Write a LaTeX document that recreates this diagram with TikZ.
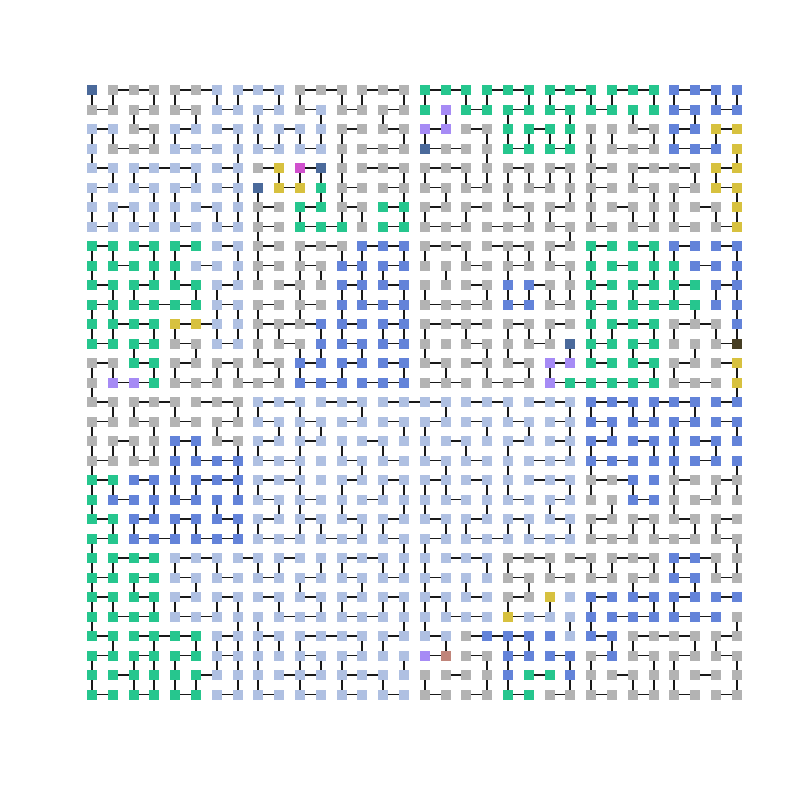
\documentclass[tikz,border=0pt]{standalone}
\usetikzlibrary{positioning}
\definecolor{cg}{HTML}{B3B3B3}
\definecolor{cl}{HTML}{AFC0E2}
\definecolor{ce}{HTML}{26C68E}
\definecolor{cb}{HTML}{6383D9}
\definecolor{cd}{HTML}{4B6A9B}
\definecolor{cy}{HTML}{D7C13F}
\definecolor{cm}{HTML}{D050CD}
\definecolor{cp}{HTML}{A68BF5}
\definecolor{cs}{HTML}{C0857A}
\definecolor{co}{HTML}{463E24}

\begin{document}
\begin{tikzpicture}[x=0.208cm,y=-0.195cm,
  cell/.style={fill=c#1,minimum size=0.1cm,inner sep=0pt,outer sep=0pt},
  link/.style={line width=0.55pt,black!90}]
\useasboundingbox (-4.423,-4.615) rectangle (34.038,36.410);

% cells, one row of colours per line
\foreach \r/\row in {
 0/{d,g,g,g,g,g,l,l,l,l,g,g,g,g,g,g,e,e,e,e,e,e,e,e,e,e,e,e,b,b,b,b},
 1/{g,g,g,g,g,g,l,l,l,l,g,l,g,g,g,g,e,p,e,e,e,e,e,e,e,e,e,e,b,b,b,b},
 2/{l,l,g,g,l,l,l,l,l,l,l,l,g,g,g,g,p,p,g,g,e,e,e,e,g,g,g,g,b,b,y,y},
 3/{l,g,g,g,l,l,l,l,l,l,l,l,g,g,g,g,d,g,g,g,e,e,e,e,g,g,g,g,b,b,b,y},
 4/{l,l,l,l,l,l,l,l,g,y,m,d,g,g,g,g,g,g,g,g,g,g,g,g,g,g,g,g,g,g,y,y},
 5/{l,l,l,l,l,l,l,l,d,y,y,e,g,g,g,g,g,g,g,g,g,g,g,g,g,g,g,g,g,g,y,y},
 6/{l,l,l,l,l,l,l,l,g,g,e,e,g,g,e,e,g,g,g,g,g,g,g,g,g,g,g,g,g,g,g,y},
 7/{l,l,l,l,l,l,l,l,g,g,e,e,e,g,e,e,g,g,g,g,g,g,g,g,g,g,g,g,g,g,g,y},
 8/{e,e,e,e,e,e,l,l,g,g,g,g,g,b,b,b,g,g,g,g,g,g,g,g,e,e,e,e,b,b,b,b},
 9/{e,e,e,e,e,l,l,l,g,g,g,g,b,b,b,b,g,g,g,g,g,g,g,g,e,e,e,e,e,b,b,b},
 10/{e,e,e,e,e,e,l,l,g,g,g,g,b,b,b,b,g,g,g,g,b,b,g,g,e,e,e,e,e,e,b,b},
 11/{e,e,e,e,e,e,l,l,g,g,g,g,b,b,b,b,g,g,g,g,b,b,g,g,e,e,e,e,e,e,b,b},
 12/{e,e,e,e,y,y,l,l,g,g,g,b,b,b,b,b,g,g,g,g,g,g,g,g,e,e,e,e,g,g,g,b},
 13/{e,e,e,e,g,g,l,l,g,g,g,b,b,b,b,b,g,g,g,g,g,g,g,d,e,e,e,e,g,g,g,o},
 14/{g,g,e,e,g,g,g,g,g,g,b,b,b,b,b,b,g,g,g,g,g,g,p,p,e,e,e,e,g,g,g,y},
 15/{g,p,p,e,g,g,g,g,g,g,b,b,b,b,b,b,g,g,g,g,g,g,p,e,e,e,e,e,g,g,g,y},
 16/{g,g,g,g,g,g,g,g,l,l,l,l,l,l,l,l,l,l,l,l,l,l,l,l,b,b,b,b,b,b,b,b},
 17/{g,g,g,g,g,g,g,g,l,l,l,l,l,l,l,l,l,l,l,l,l,l,l,l,b,b,b,b,b,b,b,b},
 18/{g,g,g,g,b,b,g,g,l,l,l,l,l,l,l,l,l,l,l,l,l,l,l,l,b,b,b,b,b,b,b,b},
 19/{g,g,g,g,b,b,b,b,l,l,l,l,l,l,l,l,l,l,l,l,l,l,l,l,b,b,b,b,b,b,b,b},
 20/{e,e,b,b,b,b,b,b,l,l,l,l,l,l,l,l,l,l,l,l,l,l,l,l,g,g,b,b,g,g,g,g},
 21/{e,b,b,b,b,b,b,b,l,l,l,l,l,l,l,l,l,l,l,l,l,l,l,l,g,g,b,b,g,g,g,g},
 22/{e,e,b,b,b,b,b,b,l,l,l,l,l,l,l,l,l,l,l,l,l,l,l,l,g,g,g,g,g,g,g,g},
 23/{e,e,b,b,b,b,b,b,l,l,l,l,l,l,l,l,l,l,l,l,l,l,l,l,g,g,g,g,g,g,g,g},
 24/{e,e,e,e,l,l,l,l,l,l,l,l,l,l,l,l,l,l,l,l,g,g,g,g,g,g,g,g,b,b,g,g},
 25/{e,e,e,e,l,l,l,l,l,l,l,l,l,l,l,l,l,l,l,l,g,g,g,g,g,g,g,g,b,b,g,g},
 26/{e,e,e,e,l,l,l,l,l,l,l,l,l,l,l,l,l,l,l,l,g,g,y,l,b,b,b,b,b,b,b,b},
 27/{e,e,e,e,l,l,l,l,l,l,l,l,l,l,l,l,l,l,l,l,y,l,l,l,b,b,b,b,b,b,b,g},
 28/{e,e,e,e,e,e,l,l,l,l,l,l,l,l,l,l,l,l,g,b,b,b,b,l,b,b,g,g,g,g,g,g},
 29/{e,e,e,e,e,e,l,l,l,l,l,l,l,l,l,l,p,s,g,g,b,b,b,b,g,b,g,g,g,g,g,g},
 30/{e,e,e,e,e,e,l,l,l,l,l,l,l,l,l,l,g,g,g,g,b,e,e,b,g,g,g,g,g,g,g,g},
 31/{e,e,e,e,e,e,l,l,l,l,l,l,l,l,l,l,g,g,g,g,e,e,g,g,g,g,g,g,g,g,g,g}} {
  \foreach \c [count=\i from 0] in \row
    \node[cell=\c] (n\i-\r) at (\i,\r) {};
}

% links to the right neighbour
\foreach \r/\cs in {
 0/{1,2,4,5,7,8,10,11,13,14,16,17,19,20,22,23,25,26,28,29},
 1/{0,2,4,6,8,10,12,14,18,20,22,24,28,30},
 2/{0,2,4,6,9,12,14,16,18,21,26,28,30},
 3/{1,2,4,5,8,10,13,14,16,17,20,22,25,26,28,29},
 4/{0,2,3,4,6,8,10,13,14,16,17,20,22,24,26,27,28,30},
 5/{0,2,4,6,9,12,14,16,18,21,24,26,28,30},
 6/{1,5,8,10,12,14,16,18,20,22,25,29},
 7/{0,2,4,6,8,10,11,14,16,17,19,20,22,24,26,28,30},
 8/{0,2,4,6,8,10,11,13,14,16,17,19,20,22,24,26,28,30},
 9/{1,5,8,10,12,14,18,20,22,25,29},
 10/{0,2,4,6,9,12,14,18,21,24,26,28,30},
 11/{0,2,3,4,6,8,10,13,14,16,17,18,20,22,24,26,27,28},
 12/{1,2,4,5,8,9,10,12,14,16,17,18,20,22,25,26,28,29},
 13/{0,2,4,6,9,12,14,18,21,24,26,30},
 14/{0,2,4,6,8,10,12,14,16,18,20,22,24,26,28,30},
 15/{1,2,4,5,7,8,10,11,13,14,16,17,19,20,22,23,24,25,26,28,29},
 16/{0,2,3,5,6,8,9,11,12,14,15,16,18,19,21,22,24,25,27,28,30},
 17/{0,2,4,6,8,10,12,14,16,18,20,22,24,26,28,30},
 18/{1,4,6,8,10,13,17,20,22,24,26,29},
 19/{0,2,5,6,8,9,12,14,16,18,21,22,24,25,29},
 20/{0,2,5,6,8,9,12,14,16,18,21,22,24,25,28,30},
 21/{1,4,8,10,13,17,20,22,26,29},
 22/{0,2,4,6,8,10,12,14,16,18,20,22,24,26,28,30},
 23/{0,2,3,5,6,8,9,11,12,14,16,18,19,21,22,24,25,27,28,30},
 24/{1,2,4,5,7,9,12,13,17,18,20,21,23,25,26,28,29},
 25/{0,2,4,6,8,10,12,14,16,20,22,24,26,28,30},
 26/{0,2,4,6,8,10,12,14,16,18,20,24,26,28,30},
 27/{1,2,4,5,9,10,12,13,17,18,20,21,25,26,28,29},
 28/{0,2,3,4,6,8,10,11,12,14,16,18,19,20,24,26,27,28,30},
 29/{0,2,4,6,10,12,16,18,20,22,24,26,28,30},
 30/{1,5,9,10,12,13,17,21,25,29},
 31/{0,2,4,6,8,10,12,14,16,18,20,22,24,26,28,30}} {
  \foreach \c in \cs {
    \pgfmathtruncatemacro\cn{\c+1}
    \draw[link] (n\c-\r) -- (n\cn-\r);
  }
}

% links to the cell below
\foreach \r/\cs in {
 0/{0,1,3,4,6,7,9,10,12,13,15,16,18,19,21,22,24,25,27,28,30,31},
 1/{2,5,8,11,14,17,20,23,26,29},
 2/{0,1,3,4,7,8,9,10,11,12,15,16,19,20,21,22,23,24,25,27,28,30},
 3/{0,7,12,19,24,31},
 4/{1,2,5,7,9,10,11,12,15,16,18,19,20,21,22,23,24,26,29,30},
 5/{0,3,4,7,8,11,12,15,17,20,23,24,27,28,31},
 6/{0,1,2,3,4,6,7,8,10,12,13,15,16,18,21,22,24,26,27,28,30,31},
 7/{8,23},
 8/{0,1,3,4,7,8,10,12,13,15,16,18,20,21,22,24,27,28,31},
 9/{0,3,4,7,8,10,11,13,14,17,20,23,24,27,28,31},
 10/{1,2,5,6,10,12,13,15,16,19,20,21,22,23,24,26,28,30,31},
 11/{0,1,6,7,8,10,12,15,24,29,31},
 12/{0,1,3,4,6,7,8,9,11,12,14,15,16,18,20,21,22,24,25,27,28,30,31},
 13/{2,5,8,10,11,13,16,19,20,23,24,26,29},
 14/{0,1,3,4,6,7,9,10,12,15,17,19,21,22,27,28,31},
 15/{0,31},
 16/{1,2,4,7,8,10,13,17,20,23,24,26,27,29},
 17/{0,3,6,9,10,11,15,16,19,21,23,25,28,31},
 18/{0,1,2,3,4,5,7,8,10,12,14,16,18,20,23,24,27,28,30},
 19/{0,4,7,10,13,17,20,24,28,31},
 20/{0,1,3,4,5,7,8,10,12,14,15,16,17,19,20,23,24,26,28,30,31},
 21/{0,3,6,9,10,12,15,16,19,22,25,28},
 22/{1,2,4,5,7,8,10,11,13,14,17,18,20,21,23,24,26,27,29,30},
 23/{0,15,16,31},
 24/{0,1,4,6,8,9,11,12,14,15,16,19,20,22,24,25,27,28,30,31},
 25/{0,2,5,10,13,16,18,21,26,29},
 26/{0,1,3,4,6,7,9,11,12,14,15,16,17,20,22,24,27,28},
 27/{0,7,8,15,16,23,24,31},
 28/{1,3,5,6,7,8,9,10,13,14,17,20,21,25,26,29,30},
 29/{0,2,3,4,6,7,8,10,11,12,15,19,20,23,24,27,28,31},
 30/{0,2,3,4,5,7,8,10,12,14,16,19,20,23,24,26,27,28,31}} {
  \pgfmathtruncatemacro\rn{\r+1}
  \foreach \c in \cs
    \draw[link] (n\c-\r) -- (n\c-\rn);
}
\end{tikzpicture}
\end{document}
